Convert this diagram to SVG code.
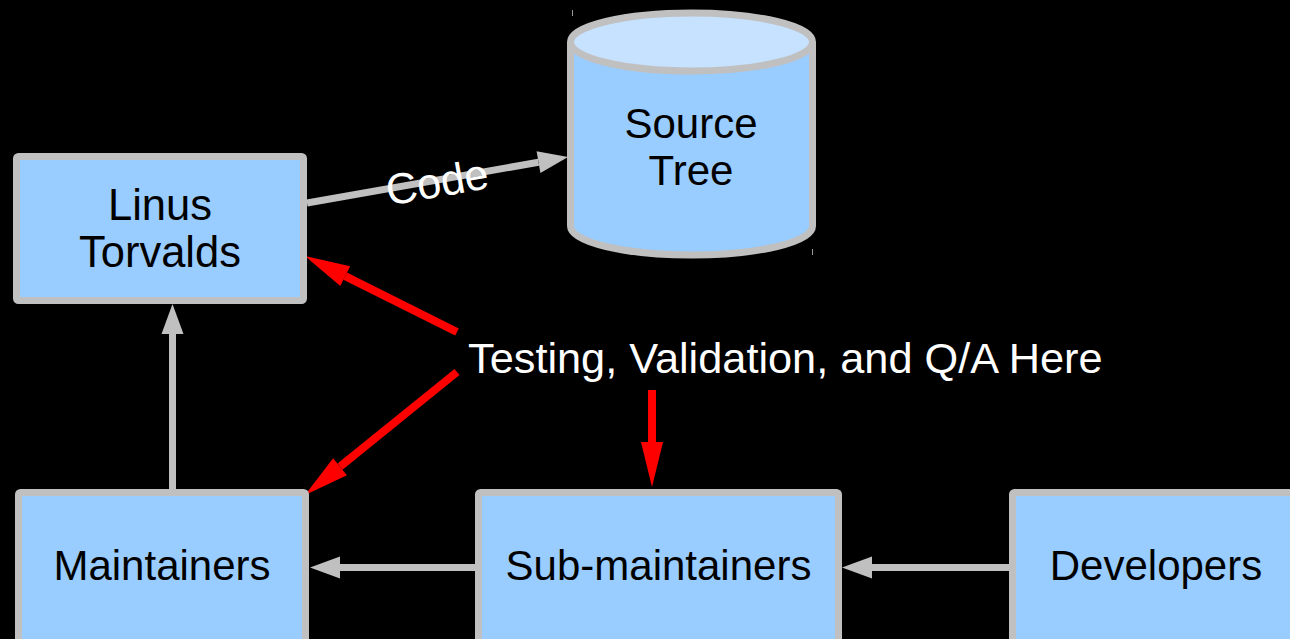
<svg xmlns="http://www.w3.org/2000/svg" width="1290" height="639" viewBox="0 0 1290 639">
  <defs>
    <style>
      .box { fill: #99ccff; stroke: #c0c0c0; stroke-width: 7; }
      .label { font-family: "Liberation Sans", Arial, sans-serif; font-size: 42px; fill: #000000; text-anchor: middle; }
      .big { font-size: 43.5px; }
      .note { font-family: "Liberation Sans", Arial, sans-serif; font-size: 43.3px; fill: #ffffff; }
      .flow { stroke: #c0c0c0; stroke-width: 7; fill: none; marker-end: url(#grayHead); }
      .check { stroke: #ff0000; stroke-width: 8; fill: none; marker-end: url(#redHead); }
      .tick { stroke: #9a9a9a; stroke-width: 1; }
    </style>
    <marker id="grayHead" markerUnits="userSpaceOnUse" viewBox="0 -11 30 22" refX="0" refY="0" markerWidth="30" markerHeight="22" orient="auto" overflow="visible">
      <path d="M0,-11 L30,0 L0,11 z" fill="#c0c0c0"/>
    </marker>
    <marker id="redHead" markerUnits="userSpaceOnUse" viewBox="0 -11 45 22" refX="0" refY="0" markerWidth="45" markerHeight="22" orient="auto" overflow="visible">
      <path d="M0,-11 L45,0 L0,11 z" fill="#ff0000"/>
    </marker>
  </defs>

  <rect width="1290" height="639" fill="#000000"/>

  <!-- connectors -->
  <g id="connectors">
    <line class="flow" x1="307" y1="203" x2="538.5" y2="162.2"/>
    <line class="flow" x1="172.5" y1="489" x2="172.5" y2="334"/>
    <line class="flow" x1="475" y1="567.5" x2="340" y2="567.5"/>
    <line class="flow" x1="1009" y1="567.5" x2="872" y2="567.5"/>
    <line class="check" x1="457" y1="332" x2="345.2" y2="276.1"/>
    <line class="check" x1="457" y1="372" x2="340" y2="466.7"/>
    <line class="check" x1="652" y1="390" x2="652" y2="442"/>
    <text class="note" x="437" y="197" text-anchor="middle" transform="rotate(-10 437 182)">Code</text>
  </g>

  <g id="linus">
    <rect class="box" x="16.5" y="156.5" width="287" height="144" rx="2"/>
    <text class="label big" x="160" y="220">Linus</text>
    <text class="label big" x="160" y="267">Torvalds</text>
  </g>

  <g id="source-tree">
    <path d="M570.5,42 L570.5,226 A121,29 0 0 0 812.5,226 L812.5,42" fill="#99ccff" stroke="#c0c0c0" stroke-width="7"/>
    <ellipse cx="691.5" cy="42" rx="121" ry="29" fill="#c6e2ff" stroke="#c0c0c0" stroke-width="7"/>
    <text class="label" x="691" y="138">Source</text>
    <text class="label" x="691" y="185">Tree</text>
    <line class="tick" x1="572.5" y1="10" x2="572.5" y2="16"/>
    <line class="tick" x1="812.5" y1="249" x2="812.5" y2="255"/>
  </g>

  <g id="maintainers">
    <rect class="box" x="18.5" y="492.5" width="287" height="200" rx="2"/>
    <text class="label" x="162" y="580">Maintainers</text>
  </g>

  <g id="sub-maintainers">
    <rect class="box" x="478.5" y="492.5" width="360" height="200" rx="2"/>
    <text class="label" x="658.5" y="580">Sub-maintainers</text>
  </g>

  <g id="developers">
    <rect class="box" x="1012.5" y="492.5" width="400" height="200" rx="2"/>
    <text class="label" x="1156" y="580">Developers</text>
  </g>

  <g id="qa-note">
    <text class="note" x="468" y="373">Testing, Validation, and Q/A Here</text>
  </g>
</svg>
